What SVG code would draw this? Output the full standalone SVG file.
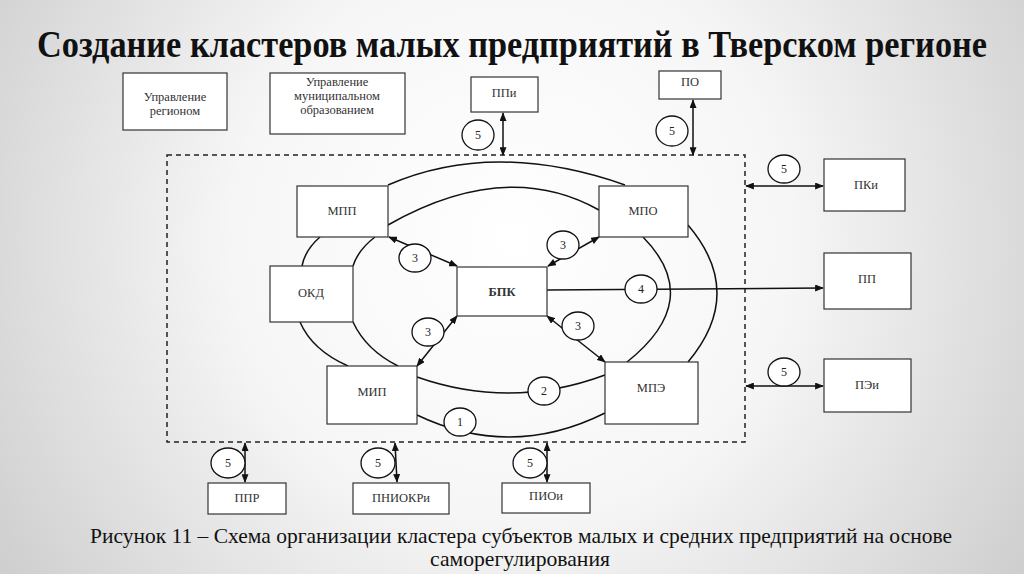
<svg xmlns="http://www.w3.org/2000/svg" width="1024" height="574" viewBox="0 0 1024 574">
<defs>
<radialGradient id="bg" cx="512" cy="240" r="620" gradientUnits="userSpaceOnUse">
<stop offset="0" stop-color="#ffffff"/>
<stop offset="0.45" stop-color="#f6f6f6"/>
<stop offset="1" stop-color="#cdcdcd"/>
</radialGradient>
<marker id="ah" viewBox="0 0 10 8" refX="9" refY="4" markerWidth="9" markerHeight="7" markerUnits="userSpaceOnUse" orient="auto-start-reverse">
<path d="M0,0 L10,4 L0,8 z" fill="#111"/>
</marker>
</defs>
<style>
.box{fill:#fff;stroke:#333;stroke-width:1.2}
.t{font-family:"Liberation Serif","Times New Roman",serif;font-size:12.5px;fill:#333;text-anchor:middle}
.b{font-weight:bold}
.arc{fill:none;stroke:#111;stroke-width:1.5}
.ln{fill:none;stroke:#111;stroke-width:1.5}
.both{marker-start:url(#ah);marker-end:url(#ah)}
.end{marker-end:url(#ah)}
.c{fill:#fff;stroke:#111;stroke-width:1.3}
.ct{font-family:"Liberation Serif","Times New Roman",serif;font-size:12px;fill:#222;text-anchor:middle}
</style>
<rect x="0" y="0" width="1024" height="574" fill="url(#bg)"/>
<text transform="translate(512,57) scale(1,1.2)" x="0" y="0" font-family="'Liberation Serif','Times New Roman',serif" font-size="31" font-weight="bold" fill="#111" text-anchor="middle" textLength="950" lengthAdjust="spacingAndGlyphs">Создание кластеров малых предприятий в Тверском регионе</text>

<rect x="167" y="155" width="578" height="287" fill="none" stroke="#222" stroke-width="1.5" stroke-dasharray="5,4"/>

<g id="connectors">
<path class="arc" d="M388,185 Q494,139 625,185"/>
<path class="arc" d="M388,225 Q506,158 599,210"/>
<path class="arc" d="M320,237 Q305,250 302,266"/>
<path class="arc" d="M300,322 Q312,350 348,366"/>
<path class="arc" d="M375,237 Q358,250 353,266"/>
<path class="arc" d="M353,322 Q366,350 398,366"/>
<path class="arc" d="M688,225 Q746,293 688,362"/>
<path class="arc" d="M643,237 Q705,300 627,362"/>
<path class="arc" d="M417,377 Q511,410 605,375"/>
<path class="arc" d="M417,415 Q511,460 605,413"/>
<line class="ln both" x1="503" y1="113" x2="503" y2="155"/>
<line class="ln both" x1="693" y1="100" x2="693" y2="155"/>
<line class="ln both" x1="746" y1="186" x2="823" y2="186"/>
<line class="ln both" x1="746" y1="386" x2="823" y2="386"/>
<line class="ln both" x1="245" y1="443" x2="245" y2="482"/>
<line class="ln both" x1="395" y1="443" x2="397" y2="482"/>
<line class="ln both" x1="547" y1="443" x2="547" y2="482"/>
<line class="ln end" x1="547" y1="290" x2="823" y2="288"/>
<line class="ln both" x1="389" y1="237" x2="457" y2="266"/>
<line class="ln both" x1="599" y1="237" x2="548" y2="266"/>
<line class="ln both" x1="457" y1="316" x2="417" y2="366"/>
<line class="ln both" x1="547" y1="316" x2="605" y2="362"/>
<ellipse class="c" cx="478" cy="135" rx="16" ry="15"/><text class="ct" x="478" y="139">5</text>
<ellipse class="c" cx="672" cy="131" rx="16" ry="15"/><text class="ct" x="672" y="135">5</text>
<ellipse class="c" cx="784" cy="169" rx="16" ry="14"/><text class="ct" x="784" y="173">5</text>
<ellipse class="c" cx="784" cy="372" rx="16" ry="14"/><text class="ct" x="784" y="376">5</text>
<ellipse class="c" cx="228" cy="463" rx="17" ry="15"/><text class="ct" x="228" y="467">5</text>
<ellipse class="c" cx="378" cy="463" rx="17" ry="15"/><text class="ct" x="378" y="467">5</text>
<ellipse class="c" cx="530" cy="463" rx="17" ry="15"/><text class="ct" x="530" y="467">5</text>
<ellipse class="c" cx="415" cy="258" rx="16" ry="14"/><text class="ct" x="415" y="262">3</text>
<ellipse class="c" cx="563" cy="245" rx="16" ry="14"/><text class="ct" x="563" y="249">3</text>
<ellipse class="c" cx="428" cy="332" rx="16" ry="14"/><text class="ct" x="428" y="336">3</text>
<ellipse class="c" cx="578" cy="326" rx="16" ry="14"/><text class="ct" x="578" y="330">3</text>
<ellipse class="c" cx="641" cy="289" rx="16" ry="14"/><text class="ct" x="641" y="293">4</text>
<ellipse class="c" cx="544" cy="391" rx="16" ry="14"/><text class="ct" x="544" y="395">2</text>
<ellipse class="c" cx="460" cy="422" rx="16" ry="14"/><text class="ct" x="460" y="426">1</text>
</g>

<g id="upr-region"><rect class="box" x="123" y="73" width="104" height="57"/><text class="t" x="175" y="101">Управление</text><text class="t" x="175" y="115">регионом</text></g>
<g id="upr-mun"><rect class="box" x="270" y="73" width="135" height="61"/><text class="t" x="337" y="86">Управление</text><text class="t" x="337" y="100">муниципальном</text><text class="t" x="337" y="114">образованием</text></g>
<g id="ppi"><rect class="box" x="471" y="77" width="67" height="35"/><text class="t" x="504" y="97">ППи</text></g>
<g id="po"><rect class="box" x="659" y="71" width="62" height="28"/><text class="t" x="690" y="86">ПО</text></g>
<g id="mpp"><rect class="box" x="297" y="186" width="91" height="51"/><text class="t" x="342" y="215">МПП</text></g>
<g id="mpo"><rect class="box" x="599" y="186" width="89" height="51"/><text class="t" x="643" y="215">МПО</text></g>
<g id="okd"><rect class="box" x="270" y="266" width="83" height="56"/><text class="t" x="311" y="297">ОКД</text></g>
<g id="bpk"><rect class="box" x="457" y="267" width="90" height="49"/><text class="t b" x="502" y="296">БПК</text></g>
<g id="mip"><rect class="box" x="327" y="366" width="90" height="58"/><text class="t" x="372" y="396">МИП</text></g>
<g id="mpe"><rect class="box" x="605" y="362" width="93" height="62"/><text class="t" x="651" y="392">МПЭ</text></g>
<g id="pki"><rect class="box" x="824" y="159" width="81" height="52"/><text class="t" x="866" y="189">ПКи</text></g>
<g id="pp"><rect class="box" x="824" y="253" width="87" height="56"/><text class="t" x="867" y="283">ПП</text></g>
<g id="pei"><rect class="box" x="824" y="359" width="87" height="53"/><text class="t" x="867" y="389">ПЭи</text></g>
<g id="ppr"><rect class="box" x="208" y="483" width="78" height="31"/><text class="t" x="247" y="502">ППР</text></g>
<g id="pniokri"><rect class="box" x="353" y="483" width="96" height="31"/><text class="t" x="401" y="502">ПНИОКРи</text></g>
<g id="pioi"><rect class="box" x="502" y="483" width="88" height="30"/><text class="t" x="546" y="500">ПИОи</text></g>

<text x="521" y="543" font-family="'Liberation Serif','Times New Roman',serif" font-size="21" fill="#111" text-anchor="middle" textLength="862" lengthAdjust="spacingAndGlyphs">Рисунок 11 – Схема организации кластера субъектов малых и средних предприятий на основе</text>
<text x="520" y="566" font-family="'Liberation Serif','Times New Roman',serif" font-size="21" fill="#111" text-anchor="middle" textLength="180" lengthAdjust="spacingAndGlyphs">саморегулирования</text>
</svg>
